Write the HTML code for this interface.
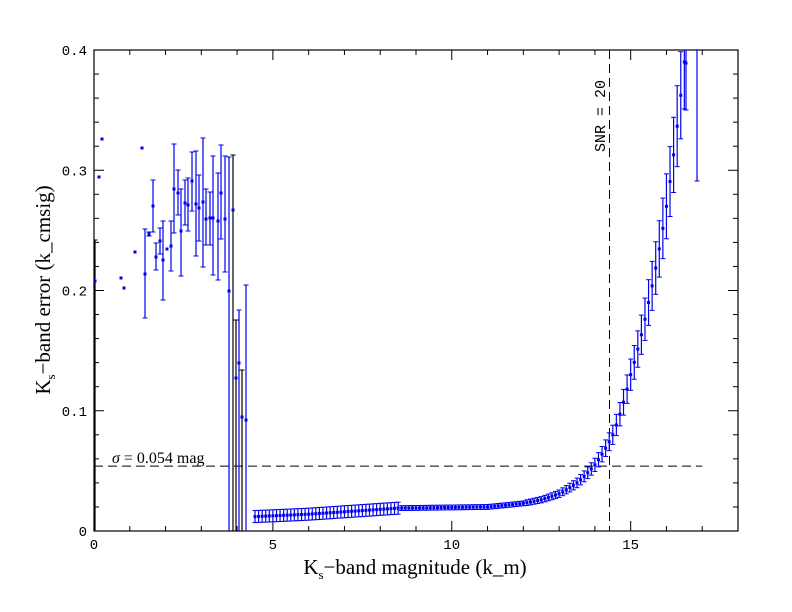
<!DOCTYPE html>
<html><head><meta charset="utf-8"><style>body{margin:0;background:#fff}svg{display:block}</style></head><body>
<svg id="s" width="792" height="612" xmlns="http://www.w3.org/2000/svg" font-family="Liberation Mono, DejaVu Sans Mono, monospace"></svg>
<script>
const s=document.getElementById('s');
const X0=94,X1=738,Y0=531,Y1=50;
const px=x=>X0+x*(X1-X0)/18, py=y=>Y0-y*(Y0-Y1)/0.4;
let h='';
h+=`<defs><clipPath id="c"><rect x="${X0}" y="${Y1}" width="${X1-X0}" height="${Y0-Y1}"/></clipPath></defs>`;
h+=`<rect x="${X0}" y="${Y1}" width="${X1-X0}" height="${Y0-Y1}" fill="none" stroke="#000" stroke-width="1.2"/>`;
for(let i=0;i<=18;i++){const x=px(i),L=i%5==0?10:5;h+=`<line x1="${x}" y1="${Y0}" x2="${x}" y2="${Y0-L}" stroke="#000"/><line x1="${x}" y1="${Y1}" x2="${x}" y2="${Y1+L}" stroke="#000"/>`;}
for(let i=0;i<=20;i++){const y=py(i*0.02),L=i%5==0?10:5;h+=`<line x1="${X0}" y1="${y}" x2="${X0+L}" y2="${y}" stroke="#000"/><line x1="${X1}" y1="${y}" x2="${X1-L}" y2="${y}" stroke="#000"/>`;}
[0,5,10,15].forEach(v=>h+=`<text x="${px(v)}" y="549" font-size="14" text-anchor="middle">${v}</text>`);
['0','0.1','0.2','0.3','0.4'].forEach((t,i)=>h+=`<text x="87" y="${py(i*0.1)+5}" font-size="14" text-anchor="end">${t}</text>`);
h+=`<text x="415" y="574" font-size="21" font-family="Liberation Serif, serif" text-anchor="middle">K<tspan font-size="13" dy="5">s</tspan><tspan dy="-5">−band magnitude (k_m)</tspan></text>`;
h+=`<text transform="translate(50,290) rotate(-90)" font-size="21" font-family="Liberation Serif, serif" text-anchor="middle">K<tspan font-size="13" dy="5">s</tspan><tspan dy="-5">−band error (k_cmsig)</tspan></text>`;
h+=`<line x1="${X0}" y1="${py(0.054)}" x2="${px(17)}" y2="${py(0.054)}" stroke="#000" stroke-dasharray="9,5"/>`;
h+=`<line x1="609.5" y1="${Y1}" x2="609.5" y2="${Y0}" stroke="#000" stroke-dasharray="9,5"/>`;
h+=`<text x="112" y="463" font-size="16" font-family="Liberation Serif, serif"><tspan font-style="italic">σ</tspan> = 0.054 mag</text>`;
h+=`<text transform="translate(605,152) rotate(-90)" font-size="15">SNR = 20</text>`;
const B='#0000ee';
let g=`<g clip-path="url(#c)">`;
function pt(x,y,t,b,col){col=col||B;if(t!=null){g+=`<line x1="${x}" y1="${t}" x2="${x}" y2="${b}" stroke="${col}" stroke-width="1.2"/><line x1="${x-2.5}" y1="${t}" x2="${x+2.5}" y2="${t}" stroke="${col}"/><line x1="${x-2.5}" y1="${b}" x2="${x+2.5}" y2="${b}" stroke="${col}"/>`;}g+=`<rect x="${x-1.5}" y="${y-1.5}" width="3" height="3" fill="${B}"/>`;}
const L=[[95,281,240,540,'#000'],[99,177],[102,139],[121,278],[124,288],[135,252],[142,148],[145,274,229,318],[149,234,232,236],[153,206,180,232],[156,257,243,270],[160,241,228,254],[163,260,221,300],[167,249],[171,246,221,271],[174,189,144,233],[178,193,170,215],[181,231,189,276],[185,203,180,225],[188,205,178,231],[192,181,152,211],[196,204,151,256],[199,208,175,241],[203,202,138,267],[206,219,189,245],[210,218,192,245],[213,218,156,275],[218,221,173,280],[221,193,145,239],[225,219,156,272],[229,291,157,535],[233,210,155,535,'#000'],[236,378,320,535,'#000'],[239,363,310,535],[242,417,370,535,'#000'],[246,420,285,535]];
L.forEach(p=>pt(p[0],p[1],p[2],p[3],p[4]));
const T=[[4.5,0.012],[6,0.014],[7,0.016],[8,0.018],[8.5,0.019],[11,0.02],[12,0.023],[12.5,0.026],[13,0.031],[13.5,0.04],[14,0.055],[14.5,0.08],[15,0.13],[15.5,0.19],[16,0.27],[16.5,0.39]];
function f(m){for(let i=0;i<T.length-1;i++){if(m<=T[i+1][0]){const a=T[i],b=T[i+1],t=(m-a[0])/(b[0]-a[0]);return a[1]*Math.pow(b[1]/a[1],t);}}return T[T.length-1][1];}
for(let m=4.5;m<=16.55;m+=0.1){
 const y=f(m);
 let e=m<8.5?0.005:(m<12?0.002:0.002+0.1*(y-0.02));
 pt(px(m),py(y),py(y+e),py(y-e));
}
pt(686,63,50,110);pt(697,40,30,181);
g+='</g>';
s.innerHTML=h+g;
</script>
</body></html>
